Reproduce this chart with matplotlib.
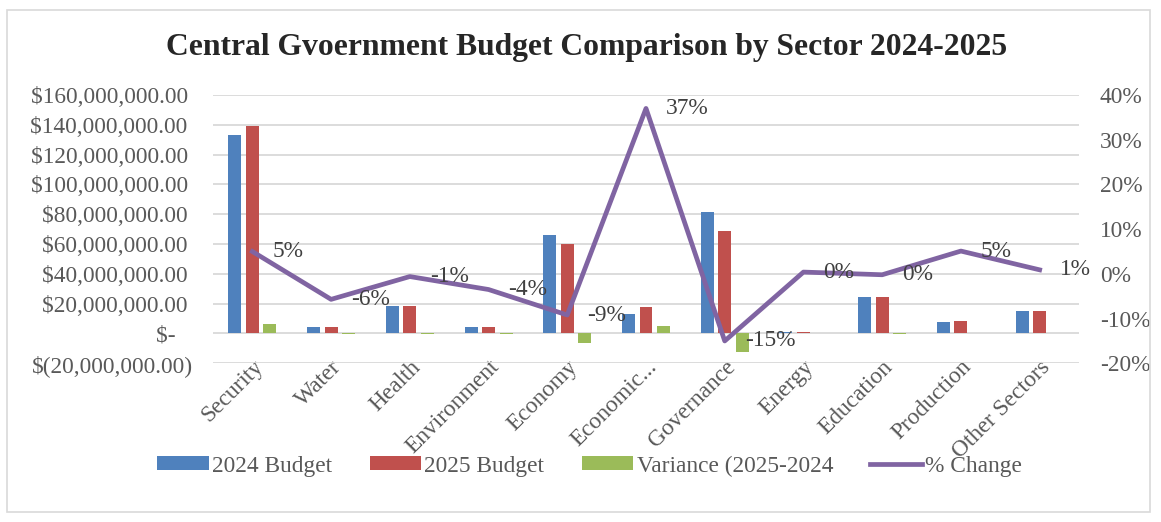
import matplotlib.pyplot as plt
import matplotlib.ticker as mticker
from matplotlib.patches import Rectangle
import numpy as np

plt.rcParams['font.family'] = ['Liberation Serif', 'DejaVu Serif']

sectors = ['Security', 'Water', 'Health', 'Environment', 'Economy', 'Economic...',
           'Governance', 'Energy', 'Education', 'Production', 'Other Sectors']
budget_2024 = [133.0, 4.4, 18.4, 4.4, 66.0, 12.8, 81.5, 1.3, 24.8, 7.4, 15.0]
budget_2025 = [139.0, 4.3, 18.3, 4.3, 60.0, 17.5, 69.0, 1.3, 24.8, 8.3, 15.1]
variance = [6.5, -0.3, -0.2, -0.2, -6.2, 4.7, -12.5, 0.0, -0.1, 0.4, 0.1]
pct_change = [0.05, -0.057, -0.006, -0.035, -0.092, 0.37, -0.15, 0.004, -0.002, 0.051, 0.009]
pct_labels = ['5%', '-6%', '-1%', '-4%', '-9%', '37%', '-15%', '0%', '0%', '5%', '1%']

blue = '#4F81BD'
red = '#C0504D'
green = '#9BBB59'
purple = '#8064A2'
txt = '#595959'
fs = 16.8

fig = plt.figure(figsize=(11.61, 5.22), dpi=100)
ax = fig.add_axes([213 / 1161, 1 - 363.3 / 522, (1079 - 213) / 1161, (363.3 - 95) / 522])
ax2 = ax.twinx()

x = np.arange(len(sectors))
w = 0.165
step = 0.222
scale = 1e6
ax.bar(x - step, np.array(budget_2024) * scale, w, color=blue, label='2024 Budget')
ax.bar(x, np.array(budget_2025) * scale, w, color=red, label='2025 Budget')
ax.bar(x + step, np.array(variance) * scale, w, color=green, label='Variance (2025-2024')

ax2.plot(x, pct_change, color=purple, lw=3.4, solid_joinstyle='round', label='% Change')
for xi, yi, lab in zip(x, pct_change, pct_labels):
    ax2.annotate(lab, (xi, yi), xytext=(20, 0), textcoords='offset pixels',
                 ha='left', va='center', fontsize=fs, color='#404040')

ax.set_xlim(-0.5, len(sectors) - 0.5)
ax.set_ylim(-20e6, 160e6)
ax.set_yticks(np.arange(-20e6, 160e6 + 1, 20e6))
ax2.set_ylim(-0.2, 0.4)
ax2.set_yticks(np.arange(-0.2, 0.41, 0.1))


def money(v, pos):
    if abs(v) < 1:
        return '$-   '
    if v < 0:
        return '$({:,.2f})'.format(-v)
    return '${:,.2f} '.format(v)


ax.yaxis.set_major_formatter(mticker.FuncFormatter(money))
ax2.yaxis.set_major_formatter(mticker.FuncFormatter(lambda v, p: '{:.0f}%'.format(round(v * 100))))

ax.grid(axis='y', color='#D9D9D9', lw=1.3)
ax.set_axisbelow(True)
for a in (ax, ax2):
    for s in a.spines.values():
        s.set_visible(False)
ax.tick_params(axis='y', length=0, pad=14, labelsize=fs, labelcolor=txt)
ax2.tick_params(axis='y', length=0, pad=15, labelsize=fs, labelcolor=txt)
ax.tick_params(axis='x', length=0, pad=-5, labelsize=fs, labelcolor=txt)
ax.set_xticks(x)
ax.set_xticklabels(sectors, rotation=45, ha='right', rotation_mode='anchor')

fig.suptitle('Central Gvoernment Budget Comparison by Sector 2024-2025', x=0.505, y=1 - 48 / 522,
             va='center', fontsize=22.8, fontweight='bold', color='#262626')

h1, l1 = ax.get_legend_handles_labels()
h2, l2 = ax2.get_legend_handles_labels()
fig.legend(h1 + h2, l1 + l2, loc='center', bbox_to_anchor=(0.508, 1 - 466 / 522), ncol=4,
           frameon=False, fontsize=fs, labelcolor=txt, handlelength=2.2, handleheight=0.55,
           handletextpad=0.15, columnspacing=1.6)

fig.patches.append(Rectangle((7 / 1161, 10 / 522), (1150 - 7) / 1161, (512 - 10) / 522,
                             transform=fig.transFigure, fill=False, edgecolor='#D9D9D9', lw=1.2))

fig.savefig('out.png', dpi=100)
